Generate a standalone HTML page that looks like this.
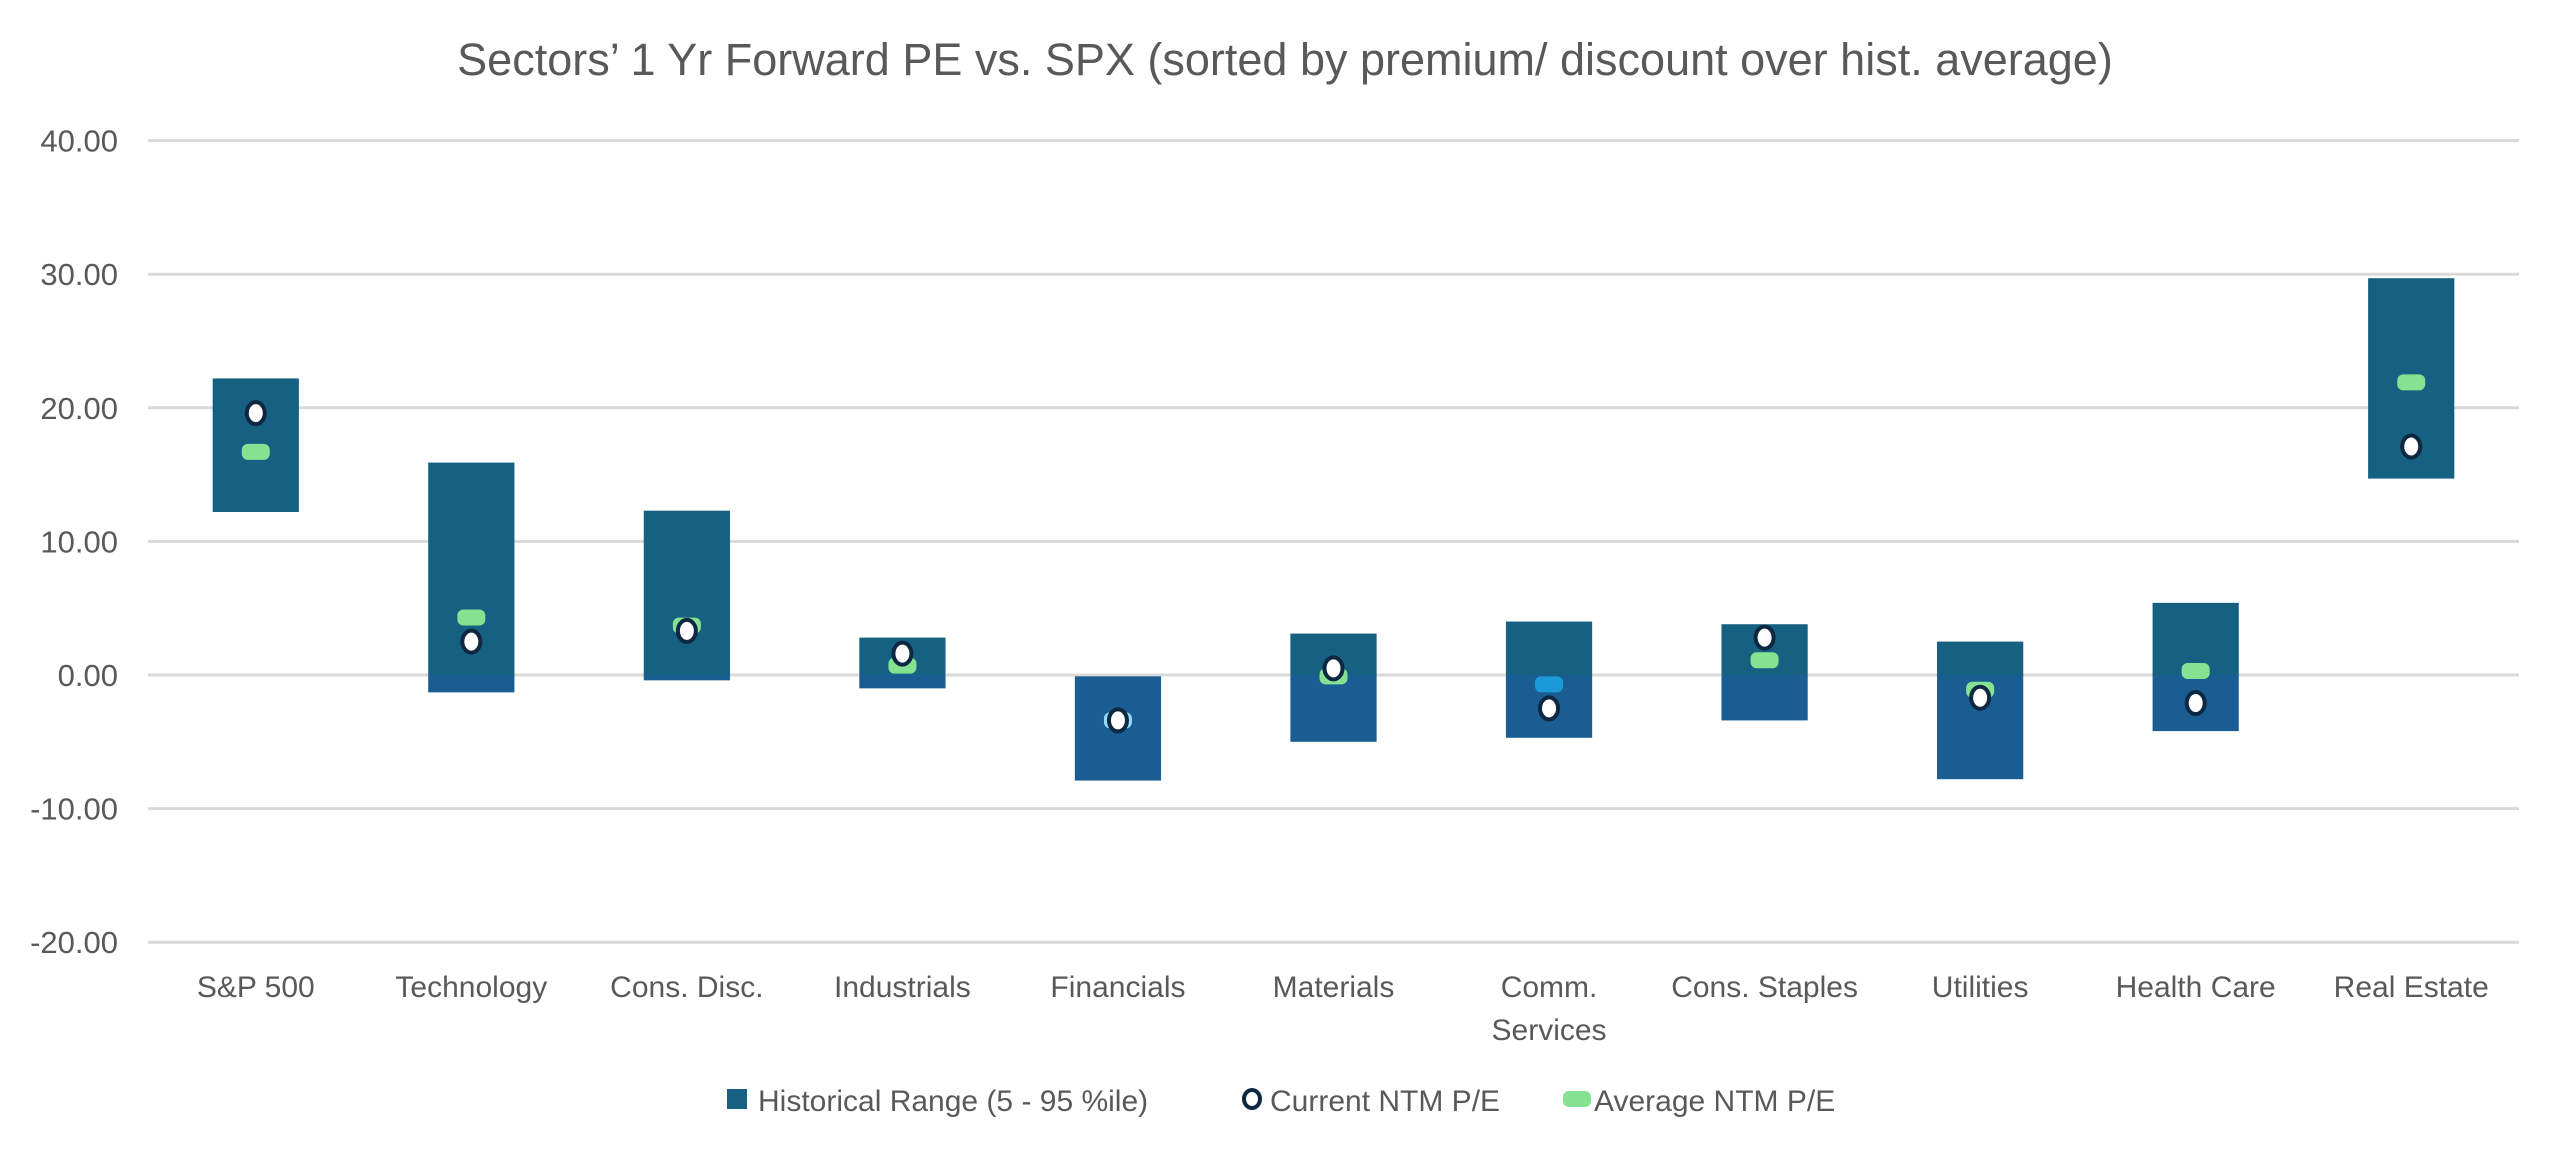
<!DOCTYPE html>
<html><head><meta charset="utf-8"><style>
html,body{margin:0;padding:0;background:#fff;}
svg{display:block;font-family:"Liberation Sans",sans-serif;}
</style></head><body>
<svg id="chart" width="2560" height="1153" viewBox="0 0 2560 1153" xmlns="http://www.w3.org/2000/svg">
<text x="1285" y="75" text-anchor="middle" font-size="45" fill="#595959">Sectors’ 1 Yr Forward PE vs. SPX (sorted by premium/ discount over hist. average)</text>
<g id="grid"></g>
<g id="yticks"></g>
<g id="bars"></g>
<g id="avgs"></g>
<g id="curs"></g>
<g id="xlabels"></g>
<g>
  <g>
    <rect x="727" y="1089" width="20" height="20" fill="#166082"/>
    <text x="758" y="1111" font-size="30" fill="#595959">Historical Range (5 - 95 %ile)</text>
  </g>
  <g>
    <ellipse cx="1252" cy="1099" rx="8" ry="9" fill="#fff" stroke="#0e2841" stroke-width="4"/>
    <text x="1270" y="1111" font-size="30" fill="#595959">Current NTM P/E</text>
  </g>
  <g>
    <rect x="1563" y="1091" width="28" height="16" rx="6" fill="#84e291"/>
    <text x="1594" y="1111" font-size="30" fill="#595959">Average NTM P/E</text>
  </g>
</g>
</svg>
<script>
const categories = ["S&P 500","Technology","Cons. Disc.","Industrials","Financials","Materials","Comm.|Services","Cons. Staples","Utilities","Health Care","Real Estate"];
const rangeLow  = [12.2, -1.3, -0.4, -1.0, -7.9, -5.0, -4.7, -3.4, -7.8, -4.2, 14.7];
const rangeHigh = [22.2, 15.9, 12.3, 2.8, -0.1, 3.1, 4.0, 3.8, 2.5, 5.4, 29.7];
const currentPE = [19.6, 2.5, 3.3, 1.6, -3.4, 0.5, -2.5, 2.8, -1.7, -2.1, 17.1];
const averagePE = [16.7, 4.3, 3.7, 0.7, -3.4, -0.1, -0.7, 1.1, -1.1, 0.3, 21.9];
const yTicks = [40, 30, 20, 10, 0, -10, -20];

const NS = "http://www.w3.org/2000/svg";
const plotL = 148, plotR = 2519, y0px = 675, pxPer = 13.36;
const band = (plotR - plotL) / categories.length;
const barW = band * 0.4;
function y(v){ return y0px - v * pxPer; }
function xc(i){ return plotL + band * (i + 0.5); }
function mk(tag, attrs, parent){
  const e = document.createElementNS(NS, tag);
  for (const k in attrs) e.setAttribute(k, attrs[k]);
  parent.appendChild(e); return e;
}
const grid = document.getElementById('grid'), yt = document.getElementById('yticks');
yTicks.forEach(t => {
  const l = mk('line', {x1: plotL, x2: plotR, y1: y(t), y2: y(t), stroke: '#d9d9d9', 'stroke-width': 3}, grid);
  
  
  const tx = mk('text', {x: 118, y: y(t) + 11, 'text-anchor': 'end', 'font-size': 31, fill: '#595959'}, yt);
  tx.textContent = t.toFixed(2);
  
  
});
const bars = document.getElementById('bars'), avgs = document.getElementById('avgs'), curs = document.getElementById('curs'), xl = document.getElementById('xlabels');
categories.forEach((c, i) => {
  const cx = xc(i), lo = rangeLow[i], hi = rangeHigh[i];
  const g = mk('g', {}, bars);
  
  
  if (hi > 0) {
    const top = y(hi), bot = y(Math.max(lo, 0));
    mk('rect', {x: cx - barW/2, y: top, width: barW, height: bot - top, fill: '#166082'}, g);
  }
  if (lo < 0) {
    const top = y(Math.min(hi, 0)), bot = y(lo);
    mk('rect', {x: cx - barW/2, y: top, width: barW, height: bot - top, fill: '#195d93'}, g);
  }
  const cu = mk('ellipse', {cx: cx, cy: y(currentPE[i]), rx: 9, ry: 11, fill: '#fff', stroke: '#0e2841', 'stroke-width': 4}, curs);
  
  
  let col = '#84e291';
  if (c === 'Financials') col = '#93d8f5';
  if (c === 'Comm.|Services') col = '#1a9bd7';
  const av = mk('rect', {x: cx - 14, y: y(averagePE[i]) - 8, width: 28, height: 16, rx: 6, fill: col}, avgs);
  
  
  const lines = c.split('|');
  lines.forEach((ln, j) => {
    const t = mk('text', {x: cx, y: 997 + j * 43, 'text-anchor': 'middle', 'font-size': 30, fill: '#595959'}, xl);
    t.textContent = ln;
    
    
  });
});
</script>
</body></html>
